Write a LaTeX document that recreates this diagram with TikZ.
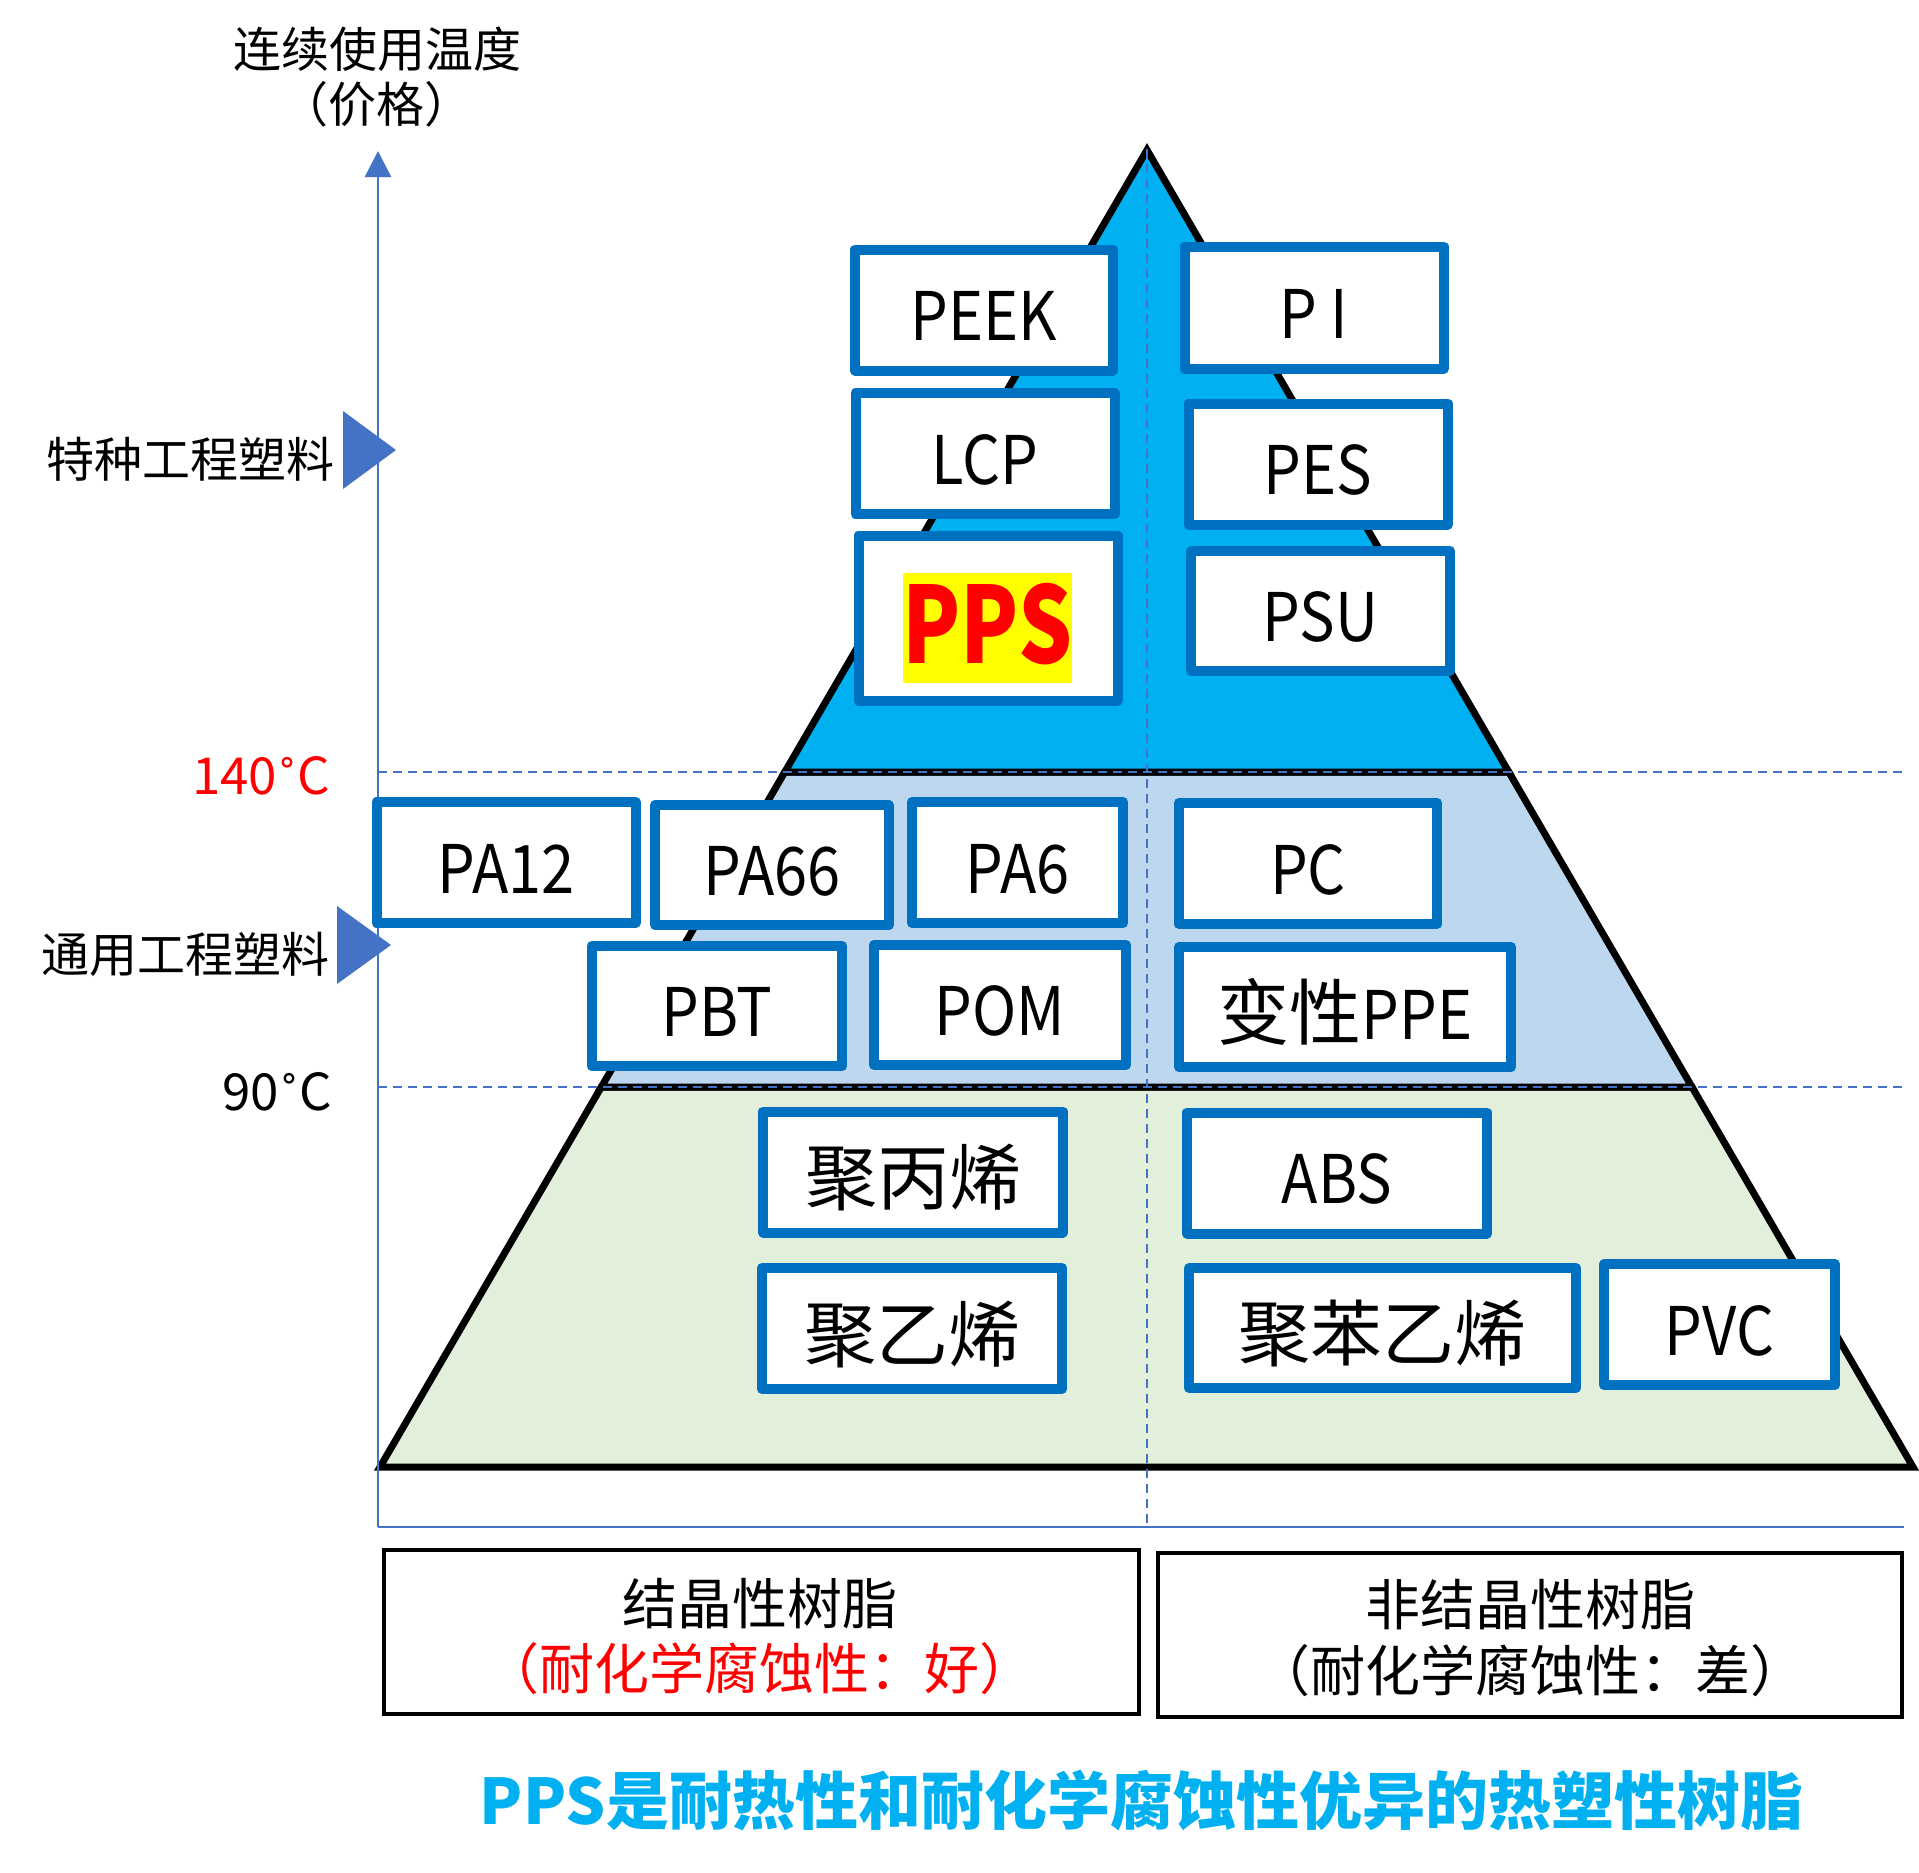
\documentclass[tikz,border=0pt]{standalone}
\usepackage{fontspec}
\setmainfont{Noto Sans CJK SC}
\newfontfamily\latnarrow{Noto Sans CJK SC}[FakeStretch=0.89]
\newfontfamily\ppsnarrow{Noto Sans CJK SC}[FakeStretch=0.8]
\newfontfamily\ringfont{DejaVu Sans}
\usetikzlibrary{arrows.meta}
\definecolor{tcyan}{HTML}{00B0F0}
\definecolor{tmid}{HTML}{BDD7EE}
\definecolor{tlow}{HTML}{E2EFDA}
\definecolor{bxblue}{HTML}{0070C0}
\definecolor{axblue}{HTML}{4472C4}
\definecolor{tred}{HTML}{FF0000}
\definecolor{hlyellow}{HTML}{FFFF00}
\newcommand\myLat{\latnarrow\fontsize{67}{80}\selectfont}
\newcommand\myCJK{\fontsize{72}{86}\selectfont}
\newcommand\myLbl{\fontsize{48}{58}\selectfont}
\newcommand\myTmp{\fontsize{51}{60}\selectfont}
\newcommand\myBot{\fontsize{55}{66}\selectfont}
\newcommand\myTitle{\fontsize{63}{76}\selectfont\bfseries}
\newcommand\myPPS{\ppsnarrow\fontsize{106}{120}\selectfont\bfseries}
\newcommand\degring{{\ringfont\fontsize{40}{40}\selectfont\raisebox{2pt}{˚}}}
\tikzset{
  tier/.style={draw=black, line width=7pt, line join=miter},
  mbox/.style={draw=bxblue, fill=white, line width=10pt, line join=round, inner sep=0pt},
  latbox/.style={mbox, font=\myLat, text height=69pt, text depth=8pt},
  cjkbox/.style={mbox, font=\myCJK, text height=74pt, text depth=8.6pt},
  dline/.style={draw=axblue, line width=2pt, dash pattern=on 9pt off 6pt},
  axisline/.style={draw=axblue, line width=2.5pt},
  sidelbl/.style={inner sep=0pt, font=\myLbl, text height=42pt, text depth=6pt},
  tmplbl/.style={inner sep=0pt, font=\myTmp, text height=43pt, text depth=6pt, anchor=east},
  botbox/.style={draw=black, line width=4pt, fill=white, inner sep=0pt},
  bottxt/.style={inner sep=0pt, font=\myBot, text height=48pt, text depth=7pt},
}
\begin{document}
\begin{tikzpicture}[x=1pt,y=-1pt]
\useasboundingbox (0,0) rectangle (1919,1872);
% pyramid
\coordinate (apex) at (1147,150);
\coordinate (l1) at (784.8,772); \coordinate (r1) at (1508.8,772);
\coordinate (l2) at (601.3,1087); \coordinate (r2) at (1692,1087);
\coordinate (l3) at (380,1467); \coordinate (r3) at (1913,1467);
\path[tier, fill=tlow] (l2) -- (r2) -- (r3) -- (l3) -- cycle;
\path[tier, fill=tmid] (l1) -- (r1) -- (r2) -- (l2) -- cycle;
\path[tier, fill=tcyan] (apex) -- (r1) -- (l1) -- cycle;
% axes
\coordinate (org) at (378,1527);
\coordinate (ytop) at (378,151);
\coordinate (xend) at (1904,1527);
\draw[axisline, -{Triangle[width=26pt,length=26pt]}] (org) -- (ytop);
\draw[axisline] (org) -- (xend);
% dashed guides
\coordinate (h1a) at (378,772); \coordinate (h1b) at (1904,772);
\coordinate (h2a) at (378,1087); \coordinate (h2b) at (1904,1087);
\coordinate (vtop) at (1147,149); \coordinate (vbot) at (1147,1527);
\draw[dline] (h1a) -- (h1b);
\draw[dline] (h2a) -- (h2b);
\draw[dline] (vtop) -- (vbot);
% markers
\fill[axblue] (343,411) -- (343,489) -- (396,450) -- cycle;
\fill[axblue] (337,906) -- (337,984) -- (391,945) -- cycle;
% axis labels
\node[sidelbl] (yt1) at (377.5,49) {连续使用温度};
\node[sidelbl] (yt2) at (376,104.5) {（价格）};
\node[sidelbl, anchor=east] (spec) at (335,459) {特种工程塑料};
\node[sidelbl, anchor=east] (gen) at (330,954.5) {通用工程塑料};
\node[tmplbl, text=tred] (t140) at (330,775.5) {140\degring C};
\node[tmplbl] (t90) at (332,1091.5) {90\degring C};
% boxes
\node[latbox, minimum width=258pt, minimum height=121pt] (peek) at (984,310) {PEEK};
\node[latbox, minimum width=259pt, minimum height=122pt] (pi) at (1314,307.5) {P I};
\node[latbox, minimum width=259pt, minimum height=121pt] (lcp) at (985,453.5) {LCP};
\node[latbox, minimum width=259pt, minimum height=121pt] (pes) at (1318,464) {PES};
\node[mbox, minimum width=259pt, minimum height=165pt] (ppsbox) at (988,618) {};
\node[fill=hlyellow, inner sep=0pt, minimum width=167pt, minimum height=109.6pt, font=\myPPS, text=tred, text height=70pt, text depth=0pt] (pps) at (987.5,628) {PPS};
\node[latbox, minimum width=259pt, minimum height=120pt] (psu) at (1320.6,611) {PSU};
\node[latbox, minimum width=259pt, minimum height=121pt] (pa12) at (506,862.5) {PA12};
\node[latbox, minimum width=233.5pt, minimum height=120.6pt] (pa66) at (772,865) {PA66};
\node[latbox, minimum width=211pt, minimum height=121pt] (pa6) at (1017.5,862.5) {PA6};
\node[latbox, minimum width=258.6pt, minimum height=121pt] (pc) at (1308,863.5) {PC};
\node[latbox, minimum width=250.6pt, minimum height=120.5pt] (pbt) at (717,1006) {PBT};
\node[latbox, minimum width=251.5pt, minimum height=120.5pt] (pom) at (1000,1005) {POM};
\node[cjkbox, minimum width=332pt, minimum height=120.5pt] (ppe) at (1345,1007) {变性{\myLat PPE}};
\node[cjkbox, minimum width=299.5pt, minimum height=121pt] (pp) at (913,1172) {聚丙烯};
\node[latbox, minimum width=300pt, minimum height=121pt] (abs) at (1337,1173) {ABS};
\node[cjkbox, minimum width=300.5pt, minimum height=121pt] (pe) at (912,1328.5) {聚乙烯};
\node[cjkbox, minimum width=387pt, minimum height=120pt] (ps) at (1382.5,1328) {聚苯乙烯};
\node[latbox, minimum width=231pt, minimum height=121pt] (pvc) at (1719.5,1324.5) {PVC};
% bottom boxes
\node[botbox, minimum width=755pt, minimum height=164pt] (lbox) at (761.5,1632) {};
\node[botbox, minimum width=744pt, minimum height=164pt] (rbox) at (1530,1635) {};
\node[bottxt] (lt1) at (760,1603.5) {结晶性树脂};
\node[bottxt, text=tred] (lt2) at (759.5,1669) {（耐化学腐蚀性：好）};
\node[bottxt] (rt1) at (1530,1605) {非结晶性树脂};
\node[bottxt] (rt2) at (1530,1671) {（耐化学腐蚀性：差）};
% title
\node[inner sep=0pt, font=\myTitle, text=tcyan, text height=55pt, text depth=8pt] (title) at (1141.5,1801) {PPS是耐热性和耐化学腐蚀性优异的热塑性树脂};
\end{tikzpicture}
\end{document}
